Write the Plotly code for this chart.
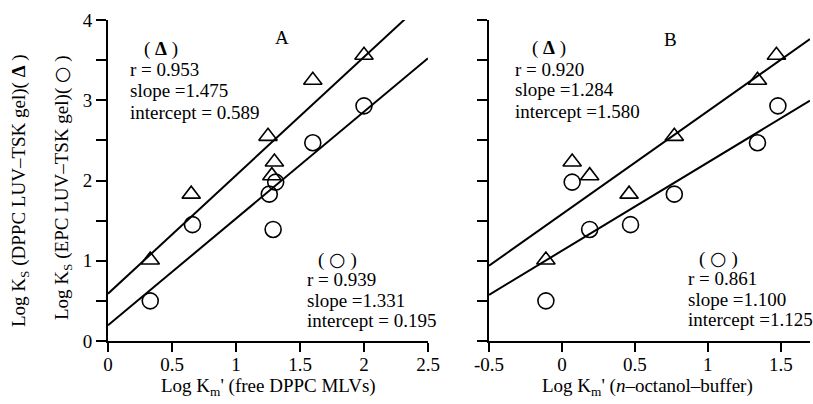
import plotly.graph_objects as go

# ---- data ----
A_tri_x = [0.33, 0.65, 1.25, 1.30, 1.28, 1.60, 2.00]
A_tri_y = [1.01, 1.83, 2.55, 2.23, 2.06, 3.25, 3.56]
A_cir_x = [0.33, 0.66, 1.26, 1.29, 1.31, 1.60, 2.00]
A_cir_y = [0.50, 1.45, 1.83, 1.39, 1.98, 2.47, 2.93]

B_tri_x = [-0.11, 0.07, 0.19, 0.46, 0.77, 1.34, 1.47]
B_tri_y = [1.01, 2.23, 2.06, 1.83, 2.55, 3.25, 3.56]
B_cir_x = [-0.11, 0.07, 0.19, 0.47, 0.77, 1.34, 1.48]
B_cir_y = [0.50, 1.98, 1.39, 1.45, 1.83, 2.47, 2.93]

# regression parameters (r, slope, intercept)
A_tri_fit = (0.953, 1.475, 0.589)
A_cir_fit = (0.939, 1.331, 0.195)
B_tri_fit = (0.920, 1.284, 1.580)
B_cir_fit = (0.861, 1.100, 1.125)

A_xrange = [0, 2.5]
B_xrange = [-0.5, 1.7]
y_range = [0, 4]

A_xticks = [0, 0.5, 1, 1.5, 2, 2.5]
A_xticklabels = ["0", "0.5", "1", "1.5", "2", "2.5"]
B_xticks = [-0.5, 0, 0.5, 1, 1.5]
B_xticklabels = ["-0.5", "0", "0.5", "1", "1.5"]
y_ticks = [0, 0.5, 1, 1.5, 2, 2.5, 3, 3.5, 4]
A_yticklabels = ["0", "", "1", "", "2", "", "3", "", "4"]

W, H = 813, 404
FONT = "Liberation Serif, Times New Roman, serif"
FS = 19

def px(x):
    return x / W

def py(y):
    return 1 - y / H

fig = go.Figure()

def scatter(x, y, sym, xa, ya):
    fig.add_trace(go.Scatter(
        x=x, y=y, mode="markers", xaxis=xa, yaxis=ya, showlegend=False,
        marker=dict(symbol=sym, size=16, color="black", line=dict(color="black", width=1.6)),
        cliponaxis=False))

def fitline(fit, xr, xa, ya):
    r, s, b = fit
    fig.add_trace(go.Scatter(
        x=[xr[0], xr[1]], y=[b + s * xr[0], b + s * xr[1]], mode="lines",
        xaxis=xa, yaxis=ya, showlegend=False,
        line=dict(color="black", width=2)))

fitline(A_tri_fit, A_xrange, "x", "y")
fitline(A_cir_fit, A_xrange, "x", "y")
fitline(B_tri_fit, B_xrange, "x2", "y2")
fitline(B_cir_fit, B_xrange, "x2", "y2")
scatter(A_tri_x, A_tri_y, "triangle-up-open", "x", "y")
scatter(A_cir_x, A_cir_y, "circle-open", "x", "y")
scatter(B_tri_x, B_tri_y, "triangle-up-open", "x2", "y2")
scatter(B_cir_x, B_cir_y, "circle-open", "x2", "y2")

axis_common = dict(showline=True, linecolor="black", linewidth=2, ticks="outside",
                   tickwidth=2, tickcolor="black", showgrid=False,
                   zeroline=False, automargin=False,
                   tickfont=dict(family=FONT, size=FS, color="black"))
xaxis_common = dict(ticklen=9, ticklabelstandoff=-4, **axis_common)
yaxis_common = dict(ticklen=10, **axis_common)

yb, yt = py(341), py(20)
fig.update_layout(
    width=W, height=H, margin=dict(l=0, r=0, t=0, b=0),
    paper_bgcolor="white", plot_bgcolor="white",
    xaxis=dict(domain=[px(108), px(428)], range=A_xrange, anchor="y",
               tickvals=A_xticks, ticktext=A_xticklabels, **xaxis_common),
    yaxis=dict(domain=[yb, yt], range=y_range, anchor="x",
               tickvals=y_ticks, ticktext=A_yticklabels, **yaxis_common),
    xaxis2=dict(domain=[px(489), px(810)], range=B_xrange, anchor="y2",
                tickvals=B_xticks, ticktext=B_xticklabels, **xaxis_common),
    yaxis2=dict(domain=[yb, yt], range=y_range, anchor="x2",
                tickvals=y_ticks, ticktext=[""] * len(y_ticks), **yaxis_common),
)

def note(text, x, y, xanchor="left", size=FS, angle=0, yanchor="middle"):
    fig.add_annotation(text=text, x=px(x), y=py(y), xref="paper", yref="paper",
                       xanchor=xanchor, yanchor=yanchor, showarrow=False, textangle=angle,
                       font=dict(family=FONT, size=size, color="black"))

def block(fit, sym, x, y0, sep, sym_x):
    r, s, b = fit
    note("( " + sym + " )", sym_x, y0, xanchor="center")
    note("r = %.3f" % r, x, y0 + sep)
    note("slope =%.3f" % s, x, y0 + 2 * sep)
    eq = "intercept = %.3f" if b < 1 else "intercept =%.3f"
    note(eq % b, x, y0 + 3 * sep)

TRI = "<b>Δ</b>"
CIR = "<span style='font-family:DejaVu Sans'><b>○</b></span>"

block(A_tri_fit, TRI, 128, 49, 21, 161)
block(A_cir_fit, CIR, 305, 259, 20.5, 337)
block(B_tri_fit, TRI, 513, 48, 21, 549)
block(B_cir_fit, CIR, 686, 258, 20.5, 718)

note("A", 282, 38, xanchor="center")
note("B", 670, 40, xanchor="center")

note("Log K<sub>m</sub>' (free DPPC MLVs)", 268, 387, xanchor="center")
note("Log K<sub>m</sub>' (<i>n</i>–octanol–buffer)", 647, 387, xanchor="center")

note("Log K<sub>S</sub> (DPPC LUV–TSK gel)( " + TRI + " )", 20, 191, xanchor="center", angle=-90)
note("Log K<sub>S</sub> (EPC LUV–TSK gel)( " + CIR + " )", 62, 188, xanchor="center", angle=-90)

fig.write_html("out.html", config={"displayModeBar": False},
               post_script="document.body.style.margin='0';document.body.style.overflow='hidden';")
